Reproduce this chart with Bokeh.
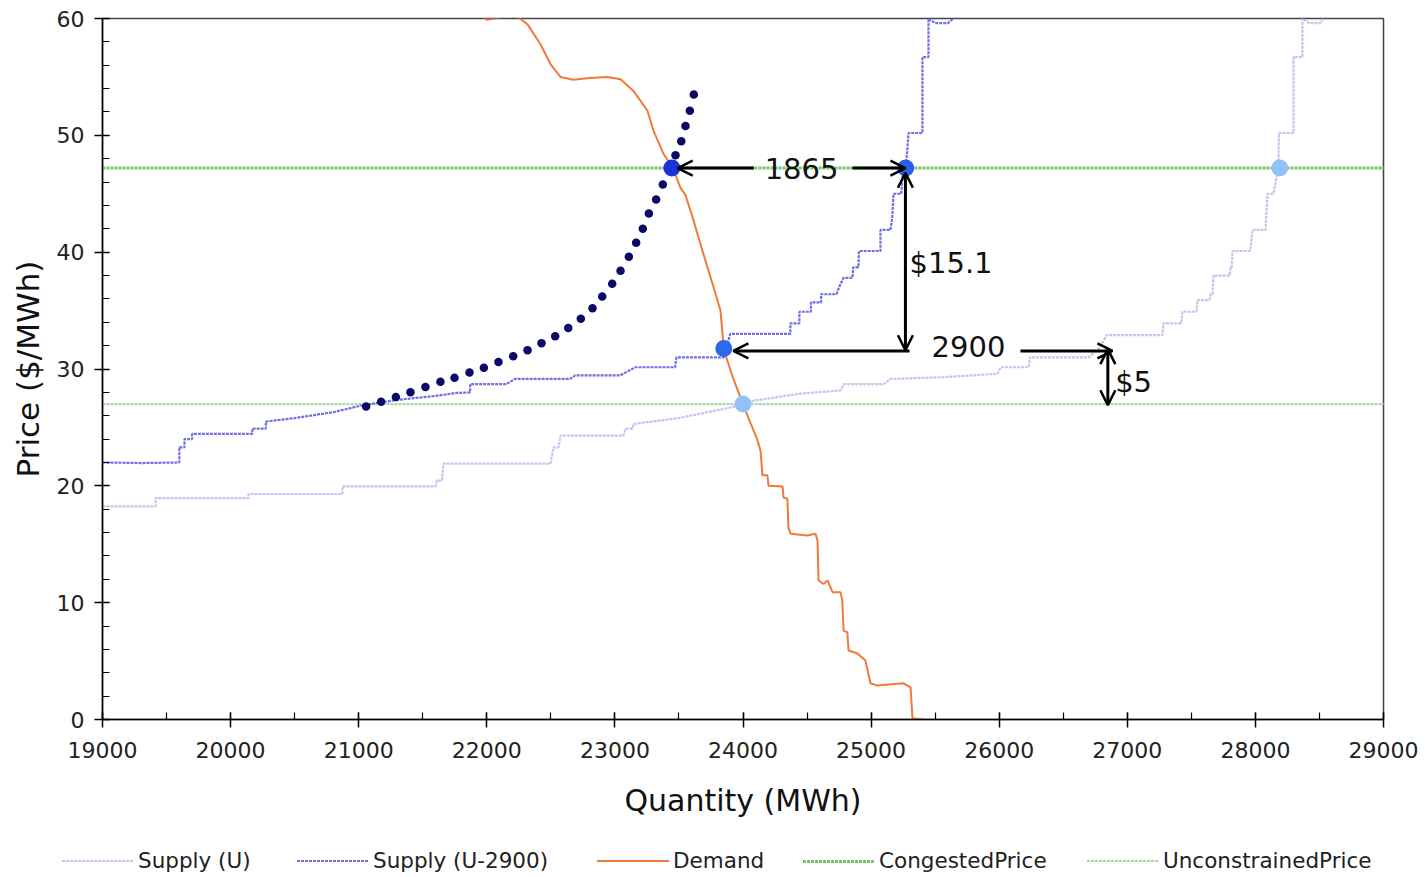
from bokeh.plotting import figure
from bokeh.layouts import column
from bokeh.models import (Range1d, SingleIntervalTicker, Arrow, OpenHead, Label, Div)
from bokeh.embed import file_html
from bokeh.resources import INLINE

# ---------------- data ----------------
supply_u_q = [19000, 19414, 19414, 20140, 20140, 20873, 20873, 21600, 21610, 21650, 21662,
              22497, 22520, 22560, 22575, 23067, 23083, 23138, 23146, 23500, 23902, 24000,
              24090, 24450, 24761, 24789, 25097, 25151, 25570, 25990, 26010, 26230, 26240,
              26700, 26780, 26840, 27275, 27280, 27420, 27431, 27540, 27548, 27640, 27650,
              27665, 27673, 27800, 27806, 27815, 27821, 27960, 27977, 28079, 28094, 28140,
              28160, 28180, 28182, 28184, 28297, 28297, 28367, 28367, 28420, 28500, 28531]
supply_u_p = [18.25, 18.25, 18.95, 18.95, 19.3, 19.3, 19.95, 19.95, 20.45, 20.45, 21.9,
              21.9, 23.3, 23.3, 24.3, 24.3, 24.9, 24.9, 25.3, 25.8, 26.7, 27.0,
              27.3, 27.9, 28.16, 28.7, 28.7, 29.15, 29.3, 29.6, 30.15, 30.15, 31.0,
              31.0, 31.8, 32.9, 32.9, 33.9, 33.9, 34.9, 34.9, 35.9, 35.9, 36.4,
              36.4, 38.0, 38.0, 38.7, 38.7, 40.1, 40.1, 41.9, 41.9, 45.0, 45.0,
              46.1, 47.2, 49.3, 50.2, 50.2, 56.7, 56.7, 60.0, 59.6, 59.6, 60.0]

supply_u2900_q = [19000, 19300, 19600, 19600, 19640, 19640, 19700, 19700, 20170, 20170, 20275,
                  20275, 20500, 20800, 21030, 21300, 21600, 21760, 21870, 21870, 22150, 22220,
                  22650, 22690, 23040, 23160, 23470, 23480, 23850, 23900, 24370, 24370, 24440,
                  24440, 24530, 24530, 24610, 24610, 24730, 24750, 24784, 24855, 24860, 24901,
                  24905, 25073, 25073, 25151, 25165, 25175, 25235, 25245, 25268, 25280, 25292,
                  25401, 25401, 25448, 25448, 25500, 25600, 25640]
supply_u2900_p = [22.0, 21.95, 22.0, 23.3, 23.3, 24.0, 24.0, 24.45, 24.45, 24.9, 24.9,
                  25.5, 25.8, 26.3, 26.9, 27.35, 27.7, 27.95, 28.0, 28.7, 28.7, 29.15,
                  29.15, 29.45, 29.45, 30.15, 30.15, 31.0, 31.0, 33.0, 33.0, 33.9, 33.9,
                  34.9, 34.9, 35.7, 35.7, 36.4, 36.4, 37.0, 37.8, 37.8, 38.7, 38.7,
                  40.1, 40.1, 41.9, 41.9, 43.0, 45.0, 45.0, 46.5, 47.2, 48.4, 50.2,
                  50.2, 56.7, 56.7, 60.0, 59.6, 59.6, 60.0]

demand_q = [21960, 22000, 22060, 22150, 22247, 22318, 22419, 22497, 22575, 22677, 22800,
            22942, 23044, 23145, 23254, 23301, 23380, 23450, 23512, 23550, 23606, 23684,
            23762, 23824, 23845, 23860, 23920, 24000, 24050, 24110, 24137, 24152, 24191,
            24199, 24309, 24316, 24347, 24355, 24371, 24503, 24566, 24582, 24590, 24629,
            24660, 24699, 24761, 24775, 24785, 24815, 24824, 24894, 24956, 24995, 25050,
            25253, 25308, 25323, 25409]
demand_p = [60.2, 59.9, 60.0, 60.2, 60.1, 59.5, 57.8, 56.1, 55.0, 54.75, 54.9,
            55.0, 54.8, 53.8, 52.1, 50.4, 48.4, 47.25, 45.5, 44.9, 43.0, 40.1,
            37.3, 35.0, 32.4, 31.3, 29.3, 27.0, 25.6, 24.0, 23.0, 20.9, 20.9,
            20.0, 19.95, 19.0, 18.9, 16.4, 15.9, 15.75, 15.9, 15.3, 11.9, 11.6,
            11.9, 10.9, 10.9, 10.2, 7.6, 7.45, 5.9, 5.65, 5.05, 3.1, 2.9,
            3.1, 2.75, 0.1, 0.0]

congested_price = 47.2
unconstrained_price = 27.0
price_line_q = [19000, 29030]

dots_q = [21058, 21175, 21290, 21404, 21521, 21638, 21748, 21865, 21977, 22091, 22206,
          22318, 22427, 22534, 22636, 22734, 22825, 22901, 22979, 23044, 23109, 23166,
          23218, 23265, 23322, 23374, 23425, 23473, 23518, 23551, 23585, 23616]
dots_p = [26.8, 27.2, 27.6, 28.0, 28.45, 28.9, 29.25, 29.7, 30.1, 30.6, 31.1,
          31.6, 32.2, 32.8, 33.5, 34.3, 35.2, 36.2, 37.3, 38.4, 39.6, 40.8,
          42.0, 43.3, 44.5, 45.8, 47.0, 48.3, 49.5, 50.8, 52.1, 53.5]

# equilibrium points
eq_q = [23445, 25270, 23850, 24000, 28190]
eq_p = [47.2, 47.2, 31.75, 27.0, 47.2]
eq_colors = ["#1a33d9", "#2b5ee6", "#3068ec", "#90c2f5", "#90c2f5"]

legend_labels = ["Supply (U)", "Supply (U-2900)", "Demand", "CongestedPrice", "UnconstrainedPrice"]

FONT = "DejaVu Sans"

C_SU, C_S29, C_DEM, C_CONG, C_UNC = "#c4c4f0", "#6f6fe4", "#f07a3a", "#74c46a", "#a9d9a2"
STYLE_CONG = dict(line_color=C_CONG, line_width=3, line_dash="3 1")
STYLE_UNC = dict(line_color=C_UNC, line_width=2.2, line_dash="3 1")
STYLE_SU = dict(line_color=C_SU, line_width=2.2, line_dash="3 1")
STYLE_S29 = dict(line_color=C_S29, line_width=2.2, line_dash="3 1")
STYLE_DEM = dict(line_color=C_DEM, line_width=2)

# ---------------- main figure ----------------
p = figure(width=1420, height=830, output_backend="svg", toolbar_location=None,
           x_range=Range1d(19000, 29000), y_range=Range1d(0, 60),
           min_border_left=102, min_border_right=37, min_border_top=18, min_border_bottom=111,
           background_fill_color="white", border_fill_color="white")
p.xgrid.visible = False
p.ygrid.visible = False
p.outline_line_color = "#444444"
p.outline_line_width = 1.5

p.xaxis.ticker = SingleIntervalTicker(interval=1000, num_minor_ticks=2)
p.yaxis.ticker = SingleIntervalTicker(interval=10, num_minor_ticks=5)
for ax in (p.xaxis[0], p.yaxis[0]):
    ax.axis_line_color = "black"
    ax.axis_line_width = 1.5
    ax.major_tick_line_color = "black"
    ax.major_tick_line_width = 1.5
    ax.minor_tick_line_color = "black"
    ax.minor_tick_line_width = 1.2
    ax.major_tick_in = 7
    ax.major_tick_out = 8
    ax.minor_tick_in = 7
    ax.minor_tick_out = 0
    ax.major_label_text_font = FONT
    ax.major_label_text_font_size = "22px"
    ax.major_label_text_color = "#222222"
    ax.axis_label_text_font = FONT
    ax.axis_label_text_font_style = "normal"
    ax.axis_label_text_color = "#111111"
p.xaxis.axis_label = "Quantity (MWh)"
p.yaxis.axis_label = "Price ($/MWh)"
p.xaxis.axis_label_text_font_size = "30px"
p.yaxis.axis_label_text_font_size = "31px"
p.xaxis.major_label_standoff = 14
p.xaxis.axis_label_standoff = 22
p.yaxis.major_label_standoff = 10
p.yaxis.axis_label_standoff = 8

# price lines
p.line(price_line_q, [congested_price] * 2, **STYLE_CONG)
p.line(price_line_q, [unconstrained_price] * 2, **STYLE_UNC)
# supply curves
p.line(supply_u_q, supply_u_p, **STYLE_SU)
p.line(supply_u2900_q, supply_u2900_p, **STYLE_S29)
# demand
p.line(demand_q, demand_p, **STYLE_DEM)
# dotted navy curve
p.scatter(dots_q, dots_p, size=8.5, fill_color="#0a0a66", line_color=None)
# equilibrium points
p.scatter(eq_q, eq_p, size=17, fill_color=eq_colors, line_color=None)

# arrows
def head():
    return OpenHead(size=15, line_width=2.5, line_color="black")

arrows = [
    (24085, 47.2, 23490, 47.2, False),
    (24855, 47.2, 25268, 47.2, False),
    (25268, 31.6, 25268, 46.8, True),
    (25300, 31.55, 23925, 31.55, False),
    (26166, 31.55, 26884, 31.55, False),
    (26848, 26.9, 26848, 31.7, True),
]
for xs, ys, xe, ye, both in arrows:
    p.add_layout(Arrow(x_start=xs, y_start=ys, x_end=xe, y_end=ye, line_width=3,
                       line_color="black", end=head(), start=head() if both else None))

labels = [
    (24457, 47.2, "1865", "center"),
    (25300, 39.1, "$15.1", "left"),
    (25760, 31.9, "2900", "center"),
    (26905, 28.85, "$5", "left"),
]
for x, y, t, al in labels:
    p.add_layout(Label(x=x, y=y, text=t, text_font=FONT, text_font_size="29px",
                       text_align=al, text_baseline="middle", text_color="#111111"))

# ---------------- legend strip (HTML) ----------------
legend_swatches = [(C_SU, 2), (C_S29, 2), (C_DEM, 2), (C_CONG, 3), (C_UNC, 2)]
legend_left = [62, 297, 597, 803, 1087]
parts = []
for lab, (col, w), left in zip(legend_labels, legend_swatches, legend_left):
    dash = (f"background:repeating-linear-gradient(90deg,{col} 0px,{col} 3px,"
            f"transparent 3px,transparent 4px);") if col != C_DEM else f"background:{col};"
    parts.append(
        f'<span style="position:absolute;left:{left}px;top:18px;display:inline-flex;'
        f'align-items:center;line-height:26px;">'
        f'<span style="display:inline-block;width:72px;height:{w}px;{dash}margin-right:4px;"></span>'
        f'<span>{lab}</span></span>')
legend_div = Div(
    text=('<div style="position:relative;width:1420px;height:46px;font-family:\'DejaVu Sans\';'
          'font-size:21.5px;color:#222222;white-space:nowrap;">'
          + "".join(parts) + '</div>'),
    width=1420, height=46, margin=0)

layout = column(p, legend_div, spacing=0)
open("out.html", "w").write(file_html(layout, INLINE))
